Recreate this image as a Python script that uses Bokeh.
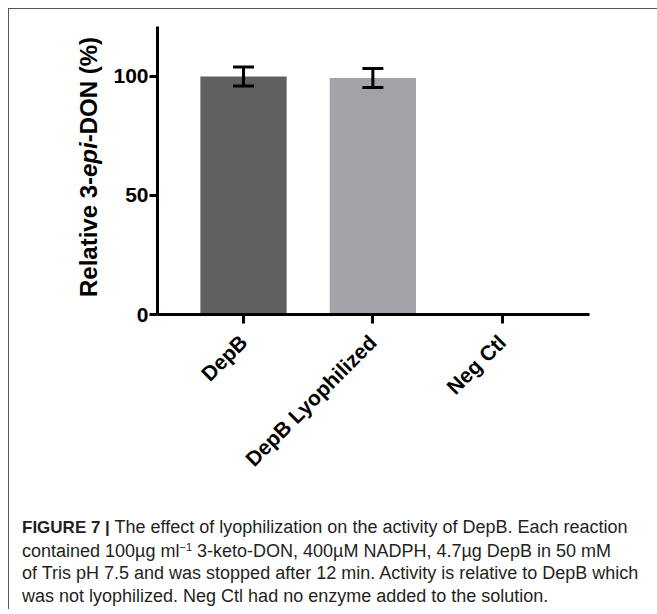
import math
from bokeh.plotting import figure
from bokeh.layouts import column, row
from bokeh.models import Range1d, FixedTicker, Whisker, TeeHead, ColumnDataSource, Div
from bokeh.embed import file_html
from bokeh.resources import INLINE

# ---- data ----
categories = ["DepB", "DepB Lyophilized", "Neg Ctl"]
values = [100.0, 99.4, 0.0]
errors = [4.0, 4.0, 0.0]
bar_colors = ["#606060", "#a3a2a6", "#c8c8c8"]
y_ticks = [0, 50, 100]

ylabel_html = "Relative 3-<i>epi</i>-DON (%)"
caption_bold = "FIGURE 7 |"
caption_lines = [
    "The effect of lyophilization on the activity of DepB. Each reaction",
    "contained 100\u00b5g ml<sup style='font-size:11px;vertical-align:6px;line-height:0'>\u22121</sup> 3-keto-DON, 400\u00b5M NADPH, 4.7\u00b5g DepB in 50 mM",
    "of Tris pH 7.5 and was stopped after 12 min. Activity is relative to DepB which",
    "was not lyophilized. Neg Ctl had no enzyme added to the solution.",
]

# ---- layout (page px) ----
ORG = 9                 # content origin after 8px margin + 1px border
LAB_W = 100             # width of y-label column
FIG_W, FIG_H = 548, 490
FL, FR, FT, FB = 157, 589, 26, 314   # frame edges in page px
X0, X1 = -0.665, 2.675
Y0, Y1 = 0, 121

xs = list(range(len(categories)))
fig_left = ORG + LAB_W

p = figure(width=FIG_W, height=FIG_H, output_backend="svg", toolbar_location=None,
           x_range=Range1d(X0, X1), y_range=Range1d(Y0, Y1),
           min_border_left=FL - fig_left, min_border_right=fig_left + FIG_W - FR,
           min_border_top=FT - ORG, min_border_bottom=FIG_H - (FB - ORG))
p.outline_line_color = None
p.xgrid.grid_line_color = None
p.ygrid.grid_line_color = None
p.background_fill_color = "white"
p.border_fill_color = "white"

p.vbar(x=xs, top=values, width=0.667, fill_color=bar_colors, line_color=None)

ex = [x for x, e in zip(xs, errors) if e > 0]
eu = [v + e for v, e in zip(values, errors) if e > 0]
el = [v - e for v, e in zip(values, errors) if e > 0]
src = ColumnDataSource(data=dict(x=ex, upper=eu, lower=el))
wh = Whisker(base="x", upper="upper", lower="lower", source=src, dimension="height",
             line_width=3, line_color="black", level="overlay",
             upper_head=TeeHead(size=21, line_width=3, line_color="black"),
             lower_head=TeeHead(size=21, line_width=3, line_color="black"))
p.add_layout(wh)

for ax in (p.xaxis[0], p.yaxis[0]):
    ax.axis_line_width = 3
    ax.axis_line_color = "black"
    ax.major_tick_line_width = 3
    ax.major_tick_line_color = "black"
    ax.major_tick_in = 0
    ax.minor_tick_line_color = None
    ax.major_label_text_font = "Liberation Sans"
    ax.major_label_text_font_style = "bold"
    ax.major_label_text_font_size = "21px"
    ax.major_label_text_color = "black"

p.xaxis.ticker = FixedTicker(ticks=xs)
p.xaxis.major_label_overrides = {i: c for i, c in zip(xs, categories)}
p.xaxis.major_label_orientation = math.pi / 4
p.xaxis.major_tick_out = 9
p.xaxis.major_label_standoff = 15

p.yaxis.ticker = FixedTicker(ticks=y_ticks)
p.yaxis.major_tick_out = 8
p.yaxis.major_label_standoff = 1

# ---- y-axis label (rotated HTML so that "epi" can be italic) ----
YL_SIZE = 24
base_x = 97            # page x of the rotated baseline
box_left = base_x - 21 - ORG
box_top = FB - ORG - 3
ylab = Div(width=LAB_W, height=FIG_H, margin=0,
           text=(f"<div style=\"position:relative; left:{box_left}px; top:{box_top}px; "
                 f"width:{FB - FT}px; height:26px; line-height:26px; text-align:center; "
                 f"white-space:nowrap; transform-origin:0 0; transform:rotate(-90deg); "
                 f"font-family:'Liberation Sans'; font-weight:bold; font-size:{YL_SIZE}px; "
                 f"color:black; margin:0; padding:0;\">{ylabel_html}</div>"))

# ---- caption ----
CAP = 18
cap_html = (f"<div style=\"margin:0; padding:17px 0 0 13px; font-family:'Liberation Sans'; "
            f"font-size:{CAP}px; line-height:22.7px; color:#231f20; white-space:nowrap;\">"
            f"<b style='font-size:17px'>{caption_bold}</b> " + "<br>".join(caption_lines) + "</div>")
cap = Div(width=LAB_W + FIG_W, height=110, margin=0, text=cap_html)

layout = column(row(ylab, p, spacing=0), cap, spacing=0)
layout.styles = {"margin-left": "8px", "margin-top": "8px",
                 "border-left": "1px solid #555555", "border-top": "1px solid #555555"}

open("out.html", "w").write(file_html(layout, INLINE))
